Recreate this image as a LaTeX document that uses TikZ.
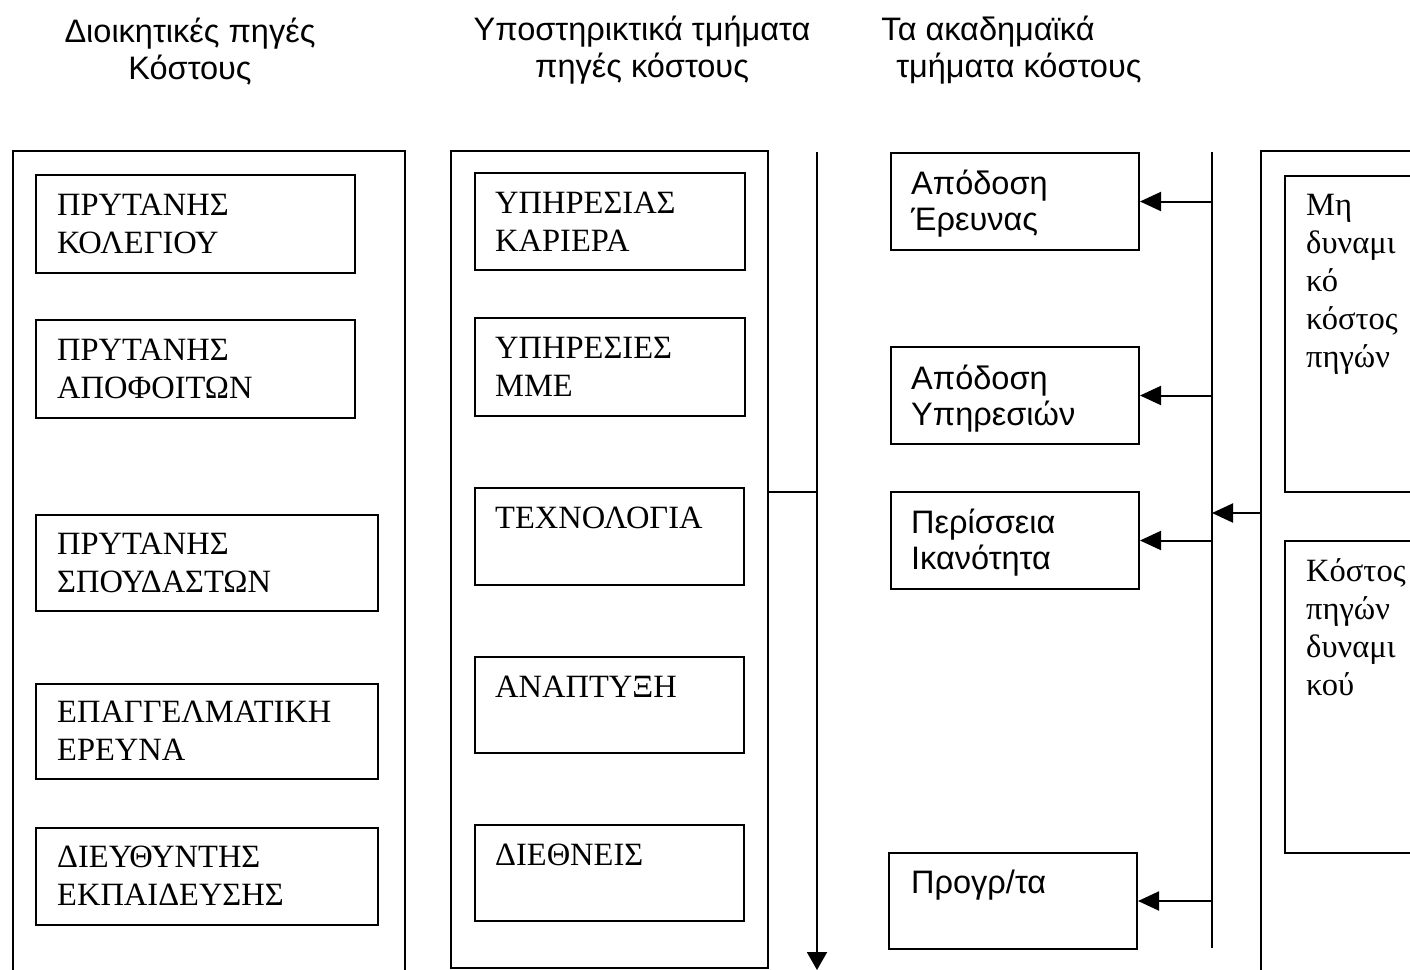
\documentclass[tikz,border=0pt]{standalone}
\usepackage{fontspec}
\setmainfont{Liberation Serif}
\newfontfamily\hsans{Liberation Sans}
\usetikzlibrary{arrows.meta}
\newcommand{\tl}[1]{\parbox[t]{9cm}{\raggedright #1}}
\tikzset{
  bx/.style={draw, line width=2pt, inner sep=0pt, anchor=north west},
  sertxt/.style={anchor=base west, inner sep=0pt, font=\fontsize{32.5}{38}\selectfont},
  santxt/.style={anchor=base west, inner sep=0pt, font=\hsans\fontsize{32.5}{36}\selectfont},
  head/.style={anchor=base, inner sep=0pt, align=center, font=\hsans\fontsize{32.5}{37}\selectfont},
  ln/.style={line width=2pt},
  arr/.style={line width=2pt, -{Triangle[length=21pt,width=19pt]}},
}
\begin{document}
\begin{tikzpicture}[x=1pt,y=-1pt]
\useasboundingbox (0,0) rectangle (1410,969);
% headers (anchor base = last line)
\node[head] (h1) at (190,79) {Διοικητικές πηγές\\Κόστους};
\node[head] (h2) at (642,77) {Υποστηρικτικά τμήματα\\πηγές κόστους};
\node[head] (h3) at (1014,77) {Τα ακαδημαϊκά\hspace*{1.6em}\\\hspace*{0.3em}τμήματα κόστους};
% left column
\node[bx, minimum width=392pt, minimum height=840pt] (lo) at (12,150) {};
\node[bx, minimum width=319pt, minimum height=98pt] (l1) at (35,174) {};
\node[bx, minimum width=319pt, minimum height=98pt] (l2) at (35,319) {};
\node[bx, minimum width=342pt, minimum height=96pt] (l3) at (35,514) {};
\node[bx, minimum width=342pt, minimum height=95pt] (l4) at (35,683) {};
\node[bx, minimum width=342pt, minimum height=97pt] (l5) at (35,827) {};
\node[sertxt] (l1t) at (57,215) {\tl{ΠΡΥΤΑΝΗΣ\\ΚΟΛΕΓΙΟΥ}};
\node[sertxt] (l2t) at (57,360) {\tl{ΠΡΥΤΑΝΗΣ\\ΑΠΟΦΟΙΤΩΝ}};
\node[sertxt] (l3t) at (57,554) {\tl{ΠΡΥΤΑΝΗΣ\\ΣΠΟΥΔΑΣΤΩΝ}};
\node[sertxt] (l4t) at (57,722) {\tl{ΕΠΑΓΓΕΛΜΑΤΙΚΗ\\ΕΡΕΥΝΑ}};
\node[sertxt] (l5t) at (57,867) {\tl{ΔΙΕΥΘΥΝΤΗΣ\\ΕΚΠΑΙΔΕΥΣΗΣ}};
% middle column
\node[bx, minimum width=317pt, minimum height=817pt] (mo) at (450,150) {};
\node[bx, minimum width=270pt, minimum height=97pt] (m1) at (474,172) {};
\node[bx, minimum width=270pt, minimum height=98pt] (m2) at (474,317) {};
\node[bx, minimum width=269pt, minimum height=97pt] (m3) at (474,487) {};
\node[bx, minimum width=269pt, minimum height=96pt] (m4) at (474,656) {};
\node[bx, minimum width=269pt, minimum height=96pt] (m5) at (474,824) {};
\node[sertxt] (m1t) at (495,213) {\tl{ΥΠΗΡΕΣΙΑΣ\\ΚΑΡΙΕΡΑ}};
\node[sertxt] (m2t) at (495,358) {\tl{ΥΠΗΡΕΣΙΕΣ\\ΜΜΕ}};
\node[sertxt] (m3t) at (495,528) {\tl{ΤΕΧΝΟΛΟΓΙΑ}};
\node[sertxt] (m4t) at (495,697) {\tl{ΑΝΑΠΤΥΞΗ}};
\node[sertxt] (m5t) at (495,865) {\tl{ΔΙΕΘΝΕΙΣ}};
% vertical arrow
\coordinate (vtop) at (817,152);
\coordinate (vbot) at (817,970);
\coordinate (vj) at (817,492);
\draw[ln, -{Triangle[length=18pt,width=20pt]}] (vtop) -- (vbot);
\draw[ln] (mo.east |- vj) -- (vj);
% academic column
\node[bx, minimum width=248pt, minimum height=97pt] (a1) at (890,152) {};
\node[bx, minimum width=248pt, minimum height=97pt] (a2) at (890,346) {};
\node[bx, minimum width=248pt, minimum height=97pt] (a3) at (890,491) {};
\node[bx, minimum width=248pt, minimum height=96pt] (a4) at (888,852) {};
\node[santxt] (a1t) at (911,194) {\tl{Απόδοση\\Έρευνας}};
\node[santxt] (a2t) at (911,389) {\tl{Απόδοση\\Υπηρεσιών}};
\node[santxt] (a3t) at (911,533) {\tl{Περίσσεια\\Ικανότητα}};
\node[santxt] (a4t) at (911,893) {\tl{Προγρ/τα}};
% right bus line
\coordinate (rtop) at (1212,152);
\coordinate (rbot) at (1212,948);
\coordinate (rm) at (1212,513);
\draw[ln] (rtop) -- (rbot);
\draw[arr] (rtop |- a1.east) -- (a1.east);
\draw[arr] (rtop |- a2.east) -- (a2.east);
\draw[arr] (rtop |- a3.east) -- (a3.east);
\draw[arr] (rtop |- a4.east) -- (a4.east);
% right column
\node[bx, minimum width=200pt, minimum height=840pt] (ro) at (1260,150) {};
\node[bx, minimum width=180pt, minimum height=316pt] (r1) at (1284,175) {};
\node[bx, minimum width=180pt, minimum height=312pt] (r2) at (1284,540) {};
\node[sertxt] (r1t) at (1306,215) {\tl{Μη\\δυναμι\\κό\\κόστος\\πηγών}};
\node[sertxt] (r2t) at (1306,581) {\tl{Κόστος\\πηγών\\δυναμι\\κού}};
\draw[arr] (ro.west |- rm) -- (rm);
\end{tikzpicture}
\end{document}
